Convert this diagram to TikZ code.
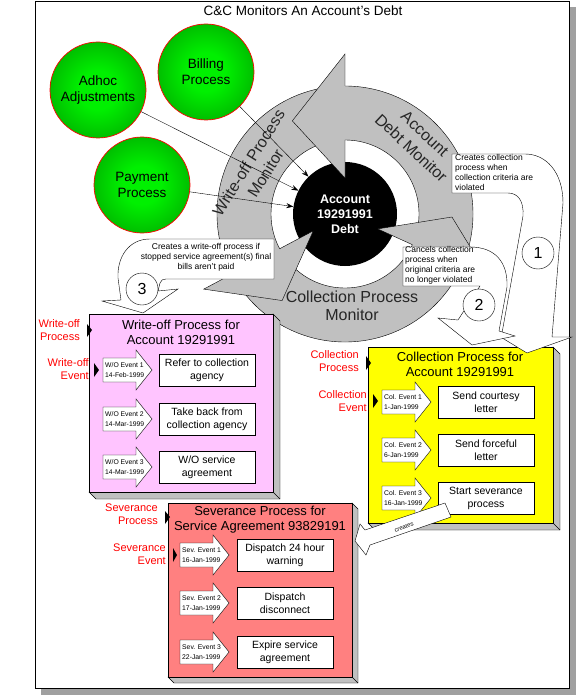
\documentclass[tikz,border=0pt]{standalone}
\usepackage{fontspec}
\setmainfont{Liberation Sans}
\usetikzlibrary{arrows.meta}

\definecolor{ringgray}{RGB}{192,192,192}
\definecolor{shadowgray}{RGB}{160,160,160}
\definecolor{wopink}{RGB}{255,196,255}
\definecolor{colyellow}{RGB}{255,255,0}
\definecolor{sevred}{RGB}{255,128,128}
\definecolor{lblred}{RGB}{255,0,0}
\definecolor{ballhi}{RGB}{0,240,0}
\definecolor{balllo}{RGB}{0,110,0}
\pgfdeclareradialshading{greenball}{\pgfpoint{0bp}{0bp}}{color(0bp)=(ballhi); color(10bp)=(ballhi); color(50bp)=(balllo); color(72bp)=(balllo)}

\tikzset{
  proc/.style={circle, draw=red, line width=0.7pt, shading=greenball, minimum size=96pt, inner sep=0pt, align=center, font=\fontsize{13.5}{16}\selectfont},
  hub/.style={circle, minimum size=104pt, inner sep=0pt, align=center, text=white, font=\bfseries\fontsize{12.5}{15}\selectfont},
  feed/.style={-{Stealth[length=7pt,width=5pt]}},
  ringtext/.style={align=center, text=black!85, font=\fontsize{16}{20}\selectfont},
  side/.style={draw, fill=ringgray},
  boxtitle/.style={align=center, font=\fontsize{13}{15}\selectfont},
  task/.style={draw, fill=white, minimum width=96pt, minimum height=32pt, inner sep=0pt, align=center, font=\fontsize{10.5}{13}\selectfont},
  evarrow/.style={draw, fill=white},
  evtext/.style={anchor=west, inner sep=0pt, align=left, font=\fontsize{6.8}{9.5}\selectfont},
  tag/.style={anchor=east, inner sep=0pt, align=right, text=lblred, font=\fontsize{11}{13}\selectfont},
  hollow/.style={draw, fill=white},
  note/.style={inner sep=0pt, font=\fontsize{8.5}{10}\selectfont},
  num/.style={circle, draw, fill=white, minimum size=32pt, inner sep=0pt, font=\fontsize{16}{16}\selectfont}
}

\begin{document}
\begin{tikzpicture}[x=1pt, y=-1pt]
  \useasboundingbox (0,0) rectangle (576,695);

  % frame and title
  \fill[shadowgray] (41,7) rectangle (576,695);
  \draw[fill=white] (35,1) rectangle (569,688);
  \node[font=\fontsize{13.5}{16}\selectfont] (title) at (303,11) {C\&C Monitors An Account's Debt};

  % feeding processes
  \node[proc] (adhoc) at (98,90) {Adhoc\\Adjustments};
  \node[proc] (billing) at (206,72) {Billing\\Process};
  \node[proc] (payment) at (142,185) {Payment\\Process};

  % monitor ring
  \begin{scope}[shift={(345,214)}]
    \fill (0,0) circle[radius=52];
    \draw[fill=ringgray, even odd rule] (0,0) circle[radius=128] (0,0) circle[radius=74];
    \foreach \b/\tp in {90/119.5, 208/234, 335.5/358.4} {
      \fill[ringgray] (-\b:160) -- (-\tp:107) -- (-\b:36) -- cycle;
      \draw (-\b:128) -- (-\b:160) -- (-\tp:107) -- (-\b:36) -- (-\b:74);
    }
  \end{scope}
  \node[ringtext, rotate=-43] (debtmon) at (418,141) {Account\\Debt Monitor};
  \node[ringtext, rotate=58] (womon) at (257,168) {Write-off Process\\Monitor};
  \node[ringtext, font=\fontsize{16}{18}\selectfont] (colmon) at (352,306) {Collection Process\\Monitor};

  \node[hub] (debt) at (345,214) {Account\\19291991\\Debt};
  \draw[feed] (adhoc) -- (debt);
  \draw[feed] (billing) -- (debt);
  \draw[feed] (payment) -- (debt);

  % write-off process
  \draw[side] (273,314) -- (280,321) -- (280,499) -- (96,499) -- (89,492) -- (273,492) -- cycle;
  \draw (273,492) -- (280,499);
  \draw[fill=wopink] (89,314) rectangle (273,492);
  \node[boxtitle] (wotitle) at (181,332) {Write-off Process for\\Account 19291991};
  \foreach \y/\n/\dt/\txt in {370/1/14-Feb-1999/{Refer to collection\\agency}, 419/2/14-Mar-1999/{Take back from\\collection agency}, 467/3/14-Mar-1999/{W/O service\\agreement}} {
    \draw[evarrow] (103,\y) ++(0,-12) -- ++(33,0) -- ++(0,-8) -- ++(16,20) -- ++(-16,20) -- ++(0,-8) -- ++(-33,0) -- cycle;
    \node[evtext] (woev\n) at (105,\y) {W/O Event \n\\\dt};
    \node[task] (wotask\n) at (207,\y) {\txt};
  }
  \node[tag] (woproc) at (80,330) {Write-off\\Process};
  \fill (87,324) -- (92,330) -- (87,337) -- cycle;
  \node[tag] (woevent) at (89,369) {Write-off\\Event};
  \fill (94,363) -- (99,370) -- (94,377) -- cycle;

  % collection process
  \draw[side] (553,347) -- (560,354) -- (560,530) -- (375,530) -- (368,523) -- (553,523) -- cycle;
  \draw (553,523) -- (560,530);
  \draw[fill=colyellow] (368,347) rectangle (553,523);
  \node[boxtitle] (coltitle) at (460,364) {Collection Process for\\Account 19291991};
  \foreach \y/\n/\dt/\txt in {402/1/1-Jan-1999/{Send courtesy\\letter}, 450/2/6-Jan-1999/{Send forceful\\letter}, 498/3/16-Jan-1999/{Start severance\\process}} {
    \draw[evarrow] (382,\y) ++(0,-12) -- ++(33,0) -- ++(0,-8) -- ++(16,20) -- ++(-16,20) -- ++(0,-8) -- ++(-33,0) -- cycle;
    \node[evtext] (colev\n) at (384,\y) {Col. Event \n\\\dt};
    \node[task] (coltask\n) at (486,\y) {\txt};
  }
  \node[tag] (colproc) at (359,361) {Collection\\Process};
  \fill (366,356) -- (371,363) -- (366,370) -- cycle;
  \node[tag] (colevent) at (367,401) {Collection\\Event};
  \fill (373,394) -- (378,401) -- (373,408) -- cycle;

  % severance process
  \draw[side] (352,503) -- (358,509) -- (358,683) -- (174,683) -- (168,677) -- (352,677) -- cycle;
  \draw (352,677) -- (358,683);
  \draw[fill=sevred] (168,503) rectangle (352,677);
  \node[boxtitle] (sevtitle) at (260,520) {Severance Process for\\Service Agreement 93829191};
  \foreach \y/\n/\dt/\txt in {555/1/16-Jan-1999/{Dispatch 24 hour\\warning}, 603/2/17-Jan-1999/{Dispatch\\disconnect}, 652/3/22-Jan-1999/{Expire service\\agreement}} {
    \draw[evarrow] (180,\y) ++(0,-12) -- ++(33,0) -- ++(0,-8) -- ++(16,20) -- ++(-16,20) -- ++(0,-8) -- ++(-33,0) -- cycle;
    \node[evtext] (sevev\n) at (182,\y) {Sev. Event \n\\\dt};
    \node[task] (sevtask\n) at (285,\y) {\txt};
  }
  \node[tag] (sevproc) at (158,514) {Severance\\Process};
  \fill (165,511) -- (170,517) -- (165,524) -- cycle;
  \node[tag] (sevevent) at (166,554) {Severance\\Event};
  \fill (173,548) -- (177,555) -- (173,562) -- cycle;

  % callout arrows
  \draw[hollow] (452,154) -- (525,154) .. controls (546,154) and (563,172) .. (563,203) -- (552,337) -- (572,337) -- (527,353) -- (494,333) -- (502,333) -- (523,216) .. controls (524,201) and (518,193) .. (508,193) -- (452,193) -- cycle;
  \node[note, anchor=west, align=left] (note1) at (455,172) {Creates collection\\process when\\collection criteria are\\violated};
  \node[num] (n1) at (538,253) {1};

  \draw[hollow] (403,247) -- (470,247) .. controls (495,247) and (508,262) .. (507,287) -- (499,331) -- (515,336) -- (472,345) -- (438,318) -- (458,320) -- (480,286) -- (403,286) -- cycle;
  \node[note, anchor=west, align=left] (note2) at (405,265) {Cancels collection\\process when\\original criteria are\\no longer violated};
  \node[num] (n2) at (479,305) {2};

  \draw[hollow] (274,239) -- (150,239) .. controls (128,239) and (117,258) .. (118,278) -- (121,300) -- (102,301) -- (143,313) -- (178,289) -- (158,291) -- (160,283) .. controls (161,280) and (163,279) .. (166,279) -- (274,279) -- cycle;
  \node[note, align=center] (note3) at (206,257) {Creates a write-off process if\\stopped service agreement(s) final\\bills aren't paid};
  \node[num] (n3) at (142,289) {3};

  \draw[hollow] (445,503) -- (365,530) -- (360,524) -- (355,541) -- (366,555) -- (370,545) -- (451,517) -- cycle;
  \node[note, rotate=19, font=\fontsize{6}{7}\selectfont] (crt) at (404,527) {creates};
\end{tikzpicture}
\end{document}
